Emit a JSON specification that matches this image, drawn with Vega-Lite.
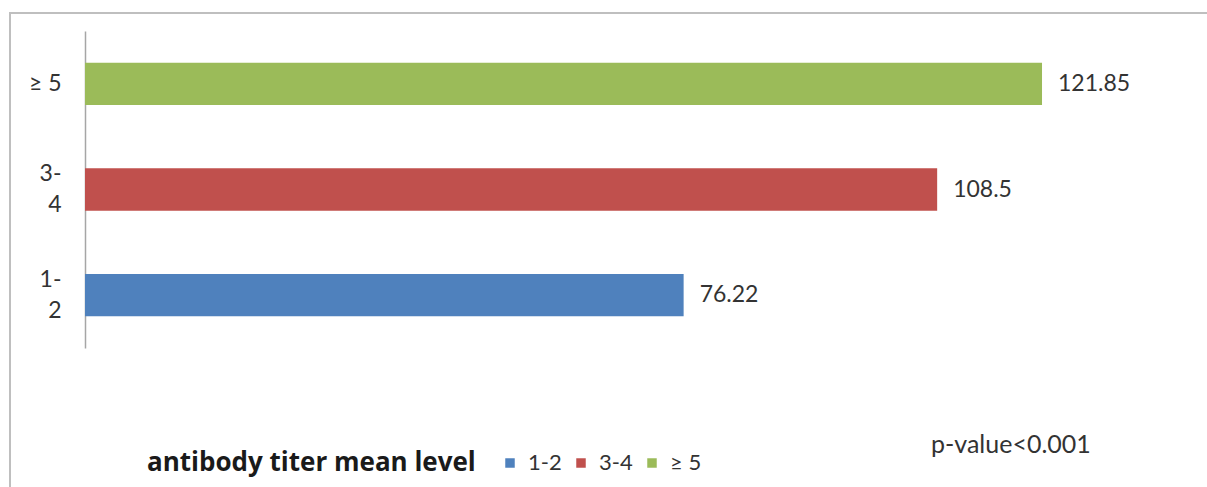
{
  "$schema": "https://vega.github.io/schema/vega-lite/v6.json",
  "width": 1207,
  "height": 487,
  "autosize": {"type": "none"},
  "padding": {"left": 10, "top": 13, "right": 0, "bottom": 0},
  "background": "white",
  "config": {
    "view": {"stroke": "#bfbfbf", "strokeWidth": 2},
    "font": "Lato"
  },
  "title": {
    "text": "p-value<0.001",
    "orient": "bottom",
    "anchor": "start",
    "baseline": "top",
    "dx": 921,
    "offset": -67,
    "fontSize": 25,
    "fontWeight": "normal",
    "color": "#333333"
  },
  "data": {
    "values": [
      {"group": "≥ 5", "mean": 121.85},
      {"group": "3-4", "mean": 108.5},
      {"group": "1-2", "mean": 76.22}
    ]
  },
  "encoding": {
    "y": {
      "field": "group",
      "type": "nominal",
      "sort": ["≥ 5", "3-4", "1-2"],
      "scale": {"range": [18, 335], "paddingInner": 0.6, "paddingOuter": 0.3},
      "axis": {
        "title": null,
        "orient": "left",
        "offset": -75,
        "domain": true,
        "domainColor": "#a6a6a6",
        "domainWidth": 1.5,
        "ticks": false,
        "grid": false,
        "labelPadding": 24,
        "labelFontSize": 23,
        "labelColor": "#333333",
        "labelLineHeight": 31,
        "labelOffset": {"condition": {"test": "datum.value == '≥ 5'", "value": 0}, "value": -15.5},
        "labelExpr": "datum.value == '≥ 5' ? datum.value : [slice(datum.value, 0, 2), slice(datum.value, 2)]"
      }
    },
    "x": {
      "field": "mean",
      "type": "quantitative",
      "scale": {"domain": [-9.549, 144.13], "nice": false, "zero": false},
      "axis": null
    }
  },
  "layer": [
    {
      "mark": {"type": "bar"},
      "encoding": {
        "color": {
          "field": "group",
          "type": "nominal",
          "scale": {"domain": ["1-2", "3-4", "≥ 5"], "range": ["#4F81BD", "#C0504D", "#9BBB59"]},
          "legend": {
            "orient": "none",
            "legendX": 137,
            "legendY": 439,
            "direction": "horizontal",
            "title": "antibody titer mean level",
            "titleOrient": "left",
            "titleFont": "Open Sans",
            "titleFontSize": 26,
            "titleFontWeight": "bold",
            "titleColor": "#1a1a1a",
            "titleLimit": 600,
            "titlePadding": 23,
            "symbolType": "square",
            "symbolSize": 90,
            "symbolStrokeWidth": 0,
            "labelFontSize": 22,
            "labelColor": "#333333",
            "labelOffset": 7,
            "columnPadding": 8
          }
        }
      }
    },
    {
      "mark": {"type": "text", "align": "left", "baseline": "middle", "dx": 16, "fontSize": 23, "color": "#333333"},
      "encoding": {"text": {"field": "mean", "type": "quantitative"}}
    }
  ]
}
